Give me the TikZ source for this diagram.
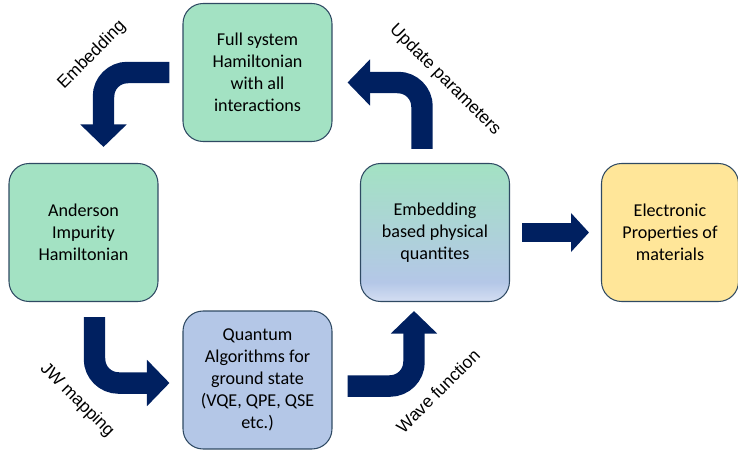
\documentclass[tikz,border=0pt]{standalone}
\usepackage{fontspec}
\setmainfont{Carlito}
\newfontfamily\labelfont{Liberation Sans}
\usepackage{tikz}
\usepackage{xcolor}
\usetikzlibrary{positioning}
\usetikzlibrary{shapes, arrows.meta, calc}
\definecolor{mintgreen}{HTML}{A3E2C3}
\definecolor{lightblue}{HTML}{B4C7E7}
\definecolor{paleblue}{HTML}{D4DEF2}
\definecolor{lightyellow}{HTML}{FFE699}
\definecolor{boxborder}{HTML}{2F4A63}
\definecolor{navy}{HTML}{002060}
\pgfdeclareverticalshading{embshade}{100bp}{color(0bp)=(paleblue); color(25bp)=(paleblue); color(32bp)=(lightblue); color(75bp)=(mintgreen); color(100bp)=(mintgreen)}
\tikzstyle{block} = [rectangle, draw=boxborder, line width=0.6pt, align=center, 
rounded corners=0.4cm, minimum height=2.76cm, minimum width=2.98cm, font=\fontsize{10.3}{12.5}\selectfont]
\tikzstyle{bigarrow} = [draw=navy, line width=0.43cm, rounded corners=0.48cm, -{Triangle[width=0.9cm, length=0.45cm]}]
\tikzstyle{flatarrow} = [draw=navy, line width=0.38cm, -{Triangle[width=0.76cm, length=0.36cm]}]
\tikzstyle{tag} = [font=\labelfont\fontsize{9.9}{11}\selectfont]

\begin{document}
\begin{tikzpicture}[x=0.02cm, y=-0.02cm, node distance = 1.82cm, auto]
	\useasboundingbox (0,0) rectangle (738,450);
	
	% Place nodes
	\node [block, fill=mintgreen] (Full Hamiltonian) at (257.5,72.5) {Full system\\Hamiltonian\\with all\\interactions};
	\node [block, fill=mintgreen] (Anderson) at (83.5,232.5) {Anderson\\Impurity\\Hamiltonian};
	\node [block, fill=lightblue] (Quantum) at (257.5,380) {Quantum\\Algorithms for\\ground state\\(VQE, QPE, QSE\\etc.)};
	\node [block, shade, shading=embshade] (Physical) at (435,232.5) {Embedding\\based physical\\quantites};
	\node [block, fill=lightyellow, minimum width=2.74cm, right=of Physical] (Electronic) {Electronic\\Properties of\\materials};
	
	%Draw edges
	\draw [bigarrow] ($(Full Hamiltonian.west)+(-13,0)$) -| ($(Anderson.north)+(20,-16)$);
	\draw [bigarrow] ($(Anderson.south)+(11,15)$) |- ($(Quantum.west)+(-13,3)$);
	\draw [bigarrow] ($(Quantum.east)+(15,6)$) -| ($(Physical.south)+(-21,9)$);
	\draw [bigarrow] ($(Physical.north)+(-13,-14)$) |- ($(Full Hamiltonian.east)+(15,10)$);
	\draw [flatarrow] ($(Physical.east)+(12,0)$) -- ($(Electronic.west)+(-12,0)$);
	
	% Edge labels
	\node [tag, rotate=45] (Embedding Tag) at (92,55) {Embedding};
	\node [tag, rotate=-45] (Update Tag) at (445,80) {Update parameters};
	\node [tag, rotate=-45] (JW Tag) at (77,400) {JW mapping};
	\node [tag, rotate=45] (Wave Tag) at (438,391) {Wave function};
	
\end{tikzpicture}
\end{document}
